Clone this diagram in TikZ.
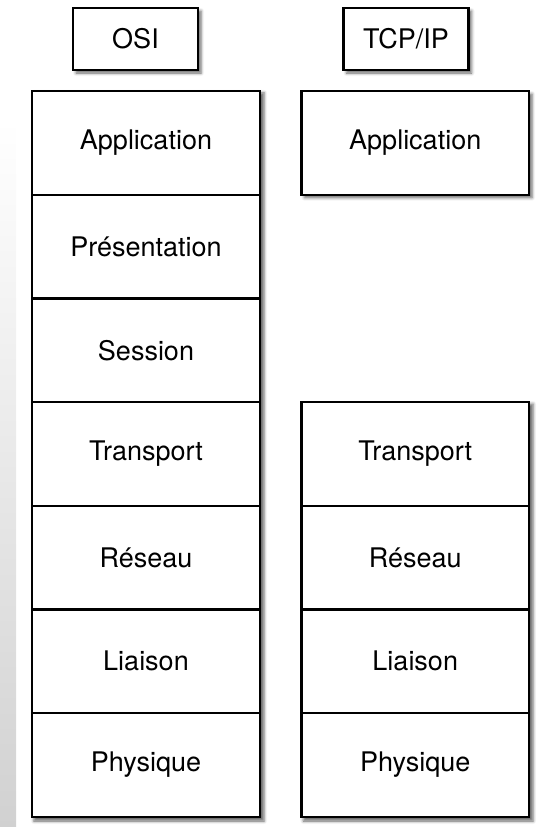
\documentclass[tikz,border=0pt]{standalone}
\usepackage{fontspec}
\setmainfont{TeX Gyre Heros}
\usetikzlibrary{shadows.blur,backgrounds}
\begin{document}
\begin{tikzpicture}[x=1pt,y=-1pt,
  box/.style={draw=black, line width=2.2pt, fill=white, inner sep=0pt,
    font=\fontsize{27}{31}\selectfont},
  head/.style={box, minimum width=125pt, minimum height=62pt},
  layer/.style={box, minimum width=228pt, minimum height=103.7pt},
  softshadow/.style={blur shadow={shadow xshift=3pt, shadow yshift=-3pt,
    shadow blur radius=3pt, shadow opacity=60}}]
\useasboundingbox (0,0) rectangle (539,827);

% grey strip along the left margin
\shade[top color=white, bottom color=black!18] (0,120) rectangle (16,827);

% column headings
\node[head, softshadow] (hosi) at (135.5,39) {OSI};
\node[head, softshadow] (htcp) at (406,39) {TCP/IP};

% OSI stack
\node[layer] (o7) at (146,142.85) {Application};
\node[layer] (o6) at (146,246.55) {Présentation};
\node[layer] (o5) at (146,350.25) {Session};
\node[layer] (o4) at (146,453.95) {Transport};
\node[layer] (o3) at (146,557.65) {Réseau};
\node[layer] (o2) at (146,661.35) {Liaison};
\node[layer] (o1) at (146,765.05) {Physique};

% TCP/IP stack
\node[layer, minimum width=227.5pt, softshadow] (t4) at (415.25,142.85) {Application};
\node[layer, minimum width=227.5pt] (t3) at (415.25,453.95) {Transport};
\node[layer, minimum width=227.5pt] (t2) at (415.25,557.65) {Réseau};
\node[layer, minimum width=227.5pt] (t1) at (415.25,661.35) {Liaison};
\node[layer, minimum width=227.5pt] (t0) at (415.25,765.05) {Physique};

% shadows behind the stacks
\begin{scope}[on background layer]
  \path[fill=white, softshadow] (o7.north west) rectangle (o1.south east);
  \path[fill=white, softshadow] (t3.north west) rectangle (t0.south east);
\end{scope}
\end{tikzpicture}
\end{document}
